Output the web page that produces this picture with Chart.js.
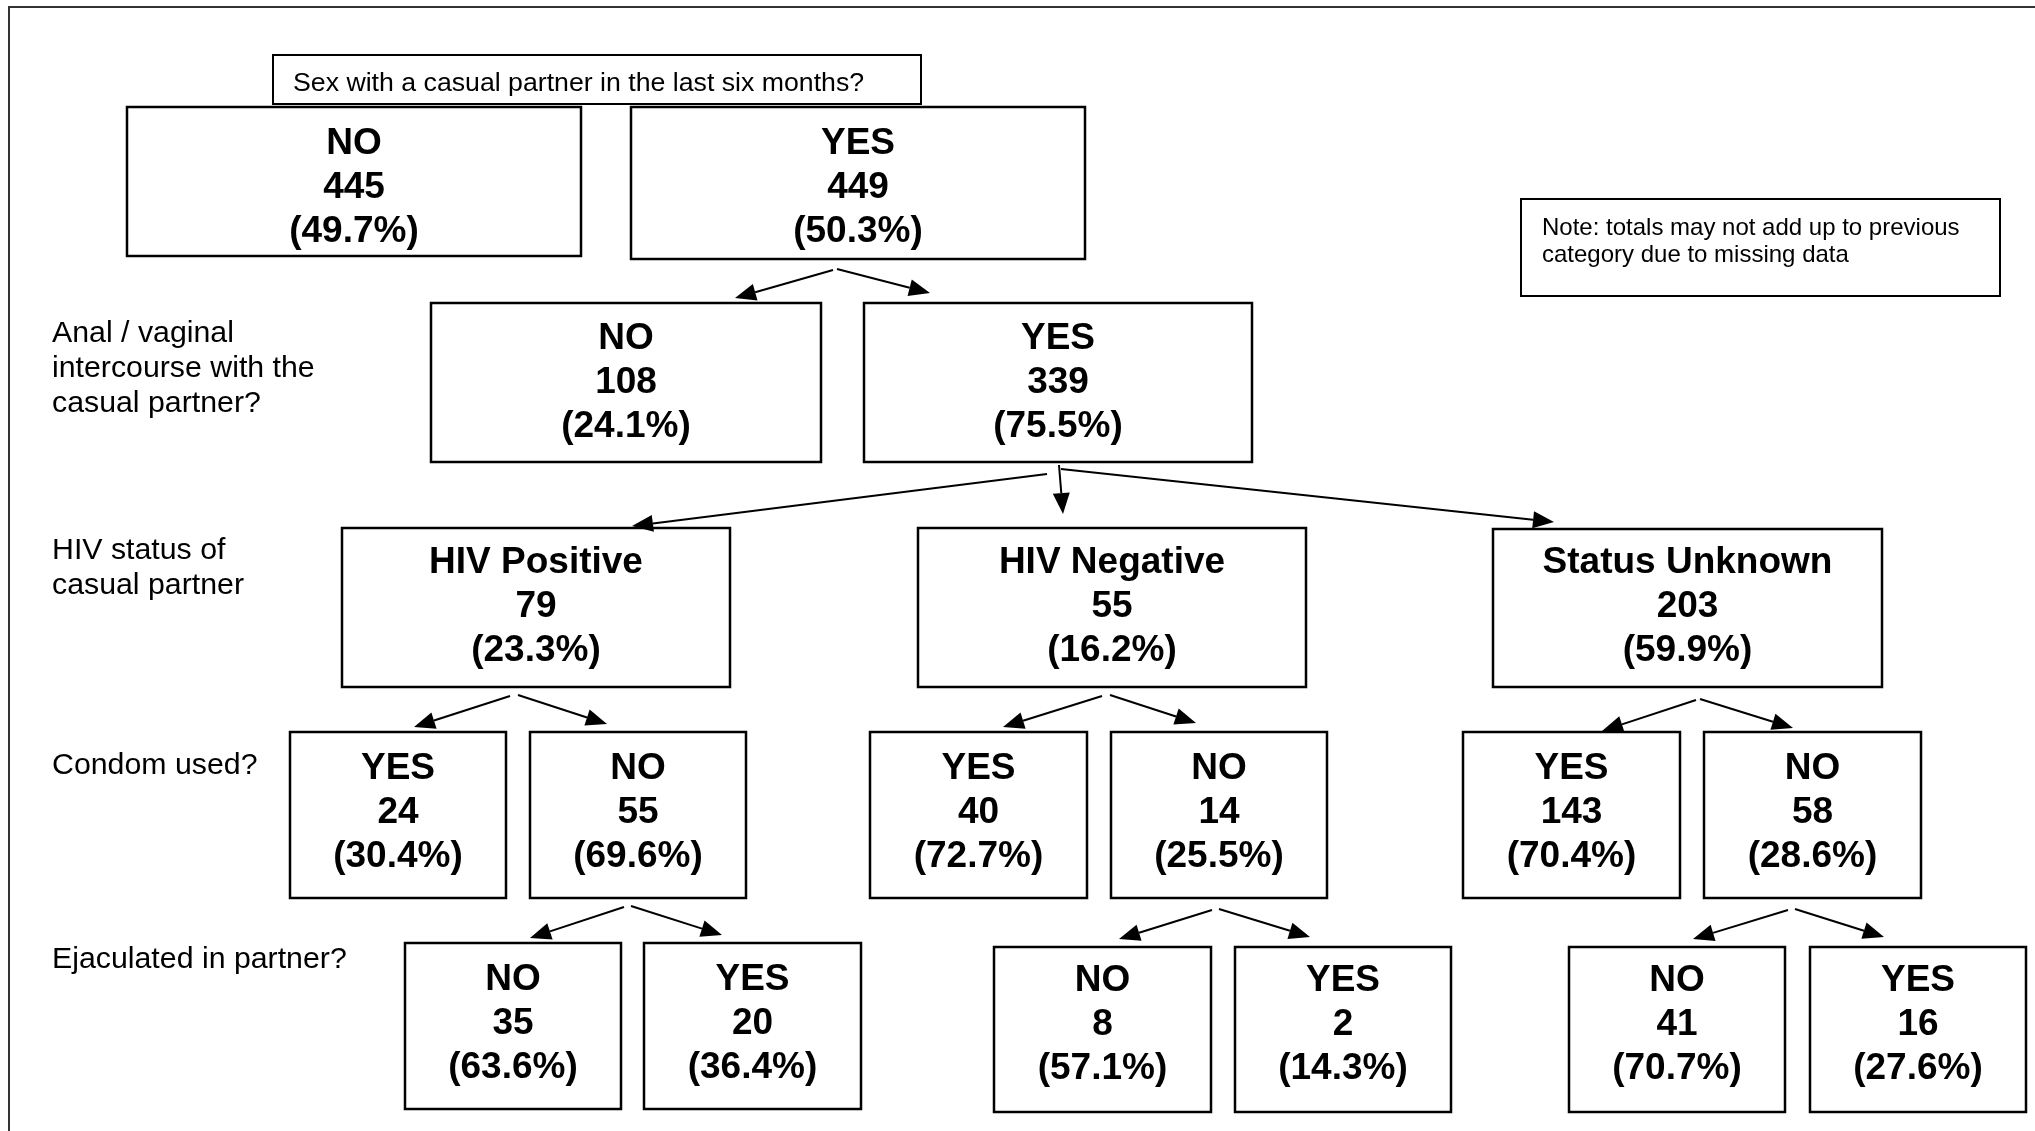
<!DOCTYPE html>
<html>
<head>
<meta charset="utf-8">
<script src="https://cdn.jsdelivr.net/npm/chart.js@4/dist/chart.umd.min.js"></script>
<style>
  html, body { margin: 0; padding: 0; background: #fff; overflow: hidden; }
  #wrap { width: 2035px; height: 1131px; }
</style>
</head>
<body>
<div id="wrap"><canvas id="tree" width="2035" height="1131"></canvas></div>
<script>
// values
const topQuestion = "Sex with a casual partner in the last six months?";
const rowQuestions = [
  ["Anal / vaginal", "intercourse with the", "casual partner?"],
  ["HIV status of", "casual partner"],
  ["Condom used?"],
  ["Ejaculated in partner?"]
];
const noteLines = ["Note: totals may not add up to previous", "category due to missing data"];

const casualLabels = ["NO", "YES"];
const casualCounts = [445, 449];
const casualPct = [49.7, 50.3];

const intercourseLabels = ["NO", "YES"];
const intercourseCounts = [108, 339];
const intercoursePct = [24.1, 75.5];

const statusLabels = ["HIV Positive", "HIV Negative", "Status Unknown"];
const statusCounts = [79, 55, 203];
const statusPct = [23.3, 16.2, 59.9];

const condomLabels = ["YES", "NO", "YES", "NO", "YES", "NO"];
const condomCounts = [24, 55, 40, 14, 143, 58];
const condomPct = [30.4, 69.6, 72.7, 25.5, 70.4, 28.6];

const ejacLabels = ["NO", "YES", "NO", "YES", "NO", "YES"];
const ejacCounts = [35, 20, 8, 2, 41, 16];
const ejacPct = [63.6, 36.4, 57.1, 14.3, 70.7, 27.6];

// layout (in axis units, axes run 0..2035 / 0..1131)
const level1Boxes = [[127, 107, 581, 256, 185], [631, 107, 1085, 259, 185]];
const level2Boxes = [[431, 303, 821, 462, 380], [864, 303, 1252, 462, 380]];
const level3Boxes = [[342, 528, 730, 687, 604], [918, 528, 1306, 687, 604], [1493, 529, 1882, 687, 604]];
const level4Boxes = [
  [290, 732, 506, 898, 810], [530, 732, 746, 898, 810],
  [870, 732, 1087, 898, 810], [1111, 732, 1327, 898, 810],
  [1463, 732, 1680, 898, 810], [1704, 732, 1921, 898, 810]
];
const level5Boxes = [
  [405, 943, 621, 1109, 1021], [644, 943, 861, 1109, 1021],
  [994, 947, 1211, 1112, 1022], [1235, 947, 1451, 1112, 1022],
  [1569, 947, 1785, 1112, 1022], [1810, 947, 2026, 1112, 1022]
];
const questionBox = [273, 55, 921, 104];
const noteBox = [1521, 199, 2000, 296];
const questionLabelY = [[342, 377, 412], [559, 594], [774], [968]];
const arrows = [
  [833, 270, 735, 298], [837, 269, 930, 293],
  [1047, 474, 632, 526], [1059, 465, 1063, 514], [1061, 469, 1554, 522],
  [510, 696, 414, 727], [518, 695, 607, 724],
  [1102, 696, 1003, 727], [1110, 695, 1196, 723],
  [1696, 700, 1602, 731], [1700, 699, 1793, 728],
  [624, 907, 530, 938], [631, 906, 722, 935],
  [1212, 910, 1119, 939], [1219, 909, 1310, 937],
  [1788, 910, 1693, 939], [1795, 909, 1884, 937]
];

const levels = [
  { labels: casualLabels, counts: casualCounts, pct: casualPct, boxes: level1Boxes },
  { labels: intercourseLabels, counts: intercourseCounts, pct: intercoursePct, boxes: level2Boxes },
  { labels: statusLabels, counts: statusCounts, pct: statusPct, boxes: level3Boxes },
  { labels: condomLabels, counts: condomCounts, pct: condomPct, boxes: level4Boxes },
  { labels: ejacLabels, counts: ejacCounts, pct: ejacPct, boxes: level5Boxes }
];

const FONT = "'Liberation Sans', Arial, sans-serif";

// node centres as an invisible scatter dataset
const centres = [];
levels.forEach(lv => lv.boxes.forEach(b => centres.push({ x: (b[0] + b[2]) / 2, y: (b[1] + b[3]) / 2 })));

const treePlugin = {
  id: "treeDiagram",
  afterDraw(chart) {
    const { ctx } = chart;
    const sx = v => chart.scales.x.getPixelForValue(v);
    const sy = v => chart.scales.y.getPixelForValue(v);

    const rect = (b, lw) => {
      ctx.lineWidth = lw;
      ctx.strokeStyle = "#000";
      ctx.strokeRect(sx(b[0]), sy(b[1]), sx(b[2]) - sx(b[0]), sy(b[3]) - sy(b[1]));
    };

    ctx.save();

    // outer frame (top and left only visible)
    ctx.strokeStyle = "#333";
    ctx.lineWidth = 2;
    ctx.beginPath();
    ctx.moveTo(sx(9), sy(1131));
    ctx.lineTo(sx(9), sy(7));
    ctx.lineTo(sx(2035), sy(7));
    ctx.stroke();

    // boxes with three bold lines
    levels.forEach(lv => {
      lv.boxes.forEach((b, i) => {
        rect(b, 2.5);
        const cx = sx((b[0] + b[2]) / 2);
        const lines = [lv.labels[i], String(lv.counts[i]), "(" + lv.pct[i].toFixed(1) + "%)"];
        ctx.fillStyle = "#000";
        ctx.font = "bold 37px " + FONT;
        ctx.textAlign = "center";
        ctx.textBaseline = "alphabetic";
        lines.forEach((t, k) => {
          ctx.fillText(t, cx, sy(b[4] + (k - 1) * 44) + 13);
        });
      });
    });

    // question box at top
    rect(questionBox, 2);
    ctx.font = "26.7px " + FONT;
    ctx.textAlign = "left";
    ctx.fillText(topQuestion, sx(293), sy(91));

    // note box
    rect(noteBox, 2);
    ctx.font = "24px " + FONT;
    noteLines.forEach((t, k) => ctx.fillText(t, sx(1542), sy(235 + k * 27)));

    // row questions at left
    ctx.font = "30.3px " + FONT;
    rowQuestions.forEach((q, r) => {
      q.forEach((t, k) => ctx.fillText(t, sx(52), sy(questionLabelY[r][k])));
    });

    // arrows
    ctx.strokeStyle = "#000";
    ctx.fillStyle = "#000";
    ctx.lineWidth = 2;
    arrows.forEach(a => {
      const x0 = sx(a[0]), y0 = sy(a[1]), x1 = sx(a[2]), y1 = sy(a[3]);
      const ang = Math.atan2(y1 - y0, x1 - x0);
      const len = 21, half = 8.5;
      const bx = x1 - len * Math.cos(ang), by = y1 - len * Math.sin(ang);
      ctx.beginPath();
      ctx.moveTo(x0, y0);
      ctx.lineTo(bx, by);
      ctx.stroke();
      ctx.beginPath();
      ctx.moveTo(x1, y1);
      ctx.lineTo(bx + half * Math.sin(ang), by - half * Math.cos(ang));
      ctx.lineTo(bx - half * Math.sin(ang), by + half * Math.cos(ang));
      ctx.closePath();
      ctx.fill();
    });

    ctx.restore();
  }
};

new Chart(document.getElementById("tree"), {
  type: "scatter",
  data: {
    datasets: [{ data: centres, pointRadius: 0, pointHoverRadius: 0 }]
  },
  options: {
    responsive: false,
    animation: false,
    events: [],
    layout: { padding: 0 },
    plugins: { legend: { display: false }, tooltip: { enabled: false } },
    scales: {
      x: { type: "linear", min: 0, max: 2035, display: false },
      y: { type: "linear", min: 0, max: 1131, reverse: true, display: false }
    }
  },
  plugins: [treePlugin]
});
</script>
</body>
</html>
